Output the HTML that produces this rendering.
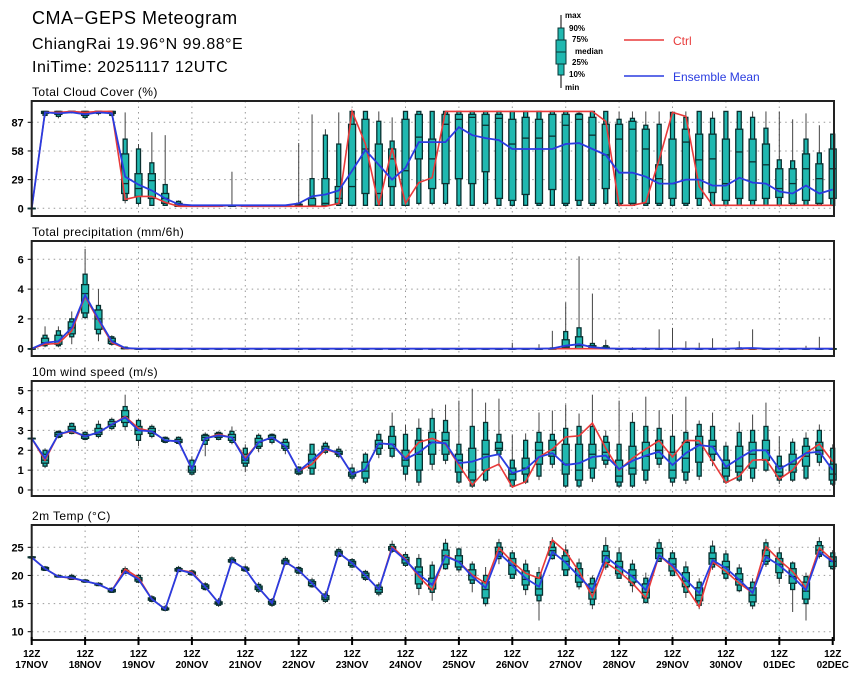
<!DOCTYPE html>
<html><head><meta charset="utf-8"><style>
html,body{margin:0;padding:0;background:#fff;}
svg{display:block;font-family:"Liberation Sans",sans-serif;}
</style></head><body>
<svg id="chart" width="860" height="679" viewBox="0 0 860 679" xmlns="http://www.w3.org/2000/svg">
<rect width="860" height="679" fill="#fff"/>
<g font-size="17" fill="#000">
<text x="32" y="24" font-size="18" letter-spacing="0.5">CMA−GEPS Meteogram</text>
<text x="32" y="49" font-size="16" letter-spacing="0.5">ChiangRai 19.96°N 99.88°E</text>
<text x="32" y="72" font-size="16" letter-spacing="0.5">IniTime: 20251117 12UTC</text>
</g>
<g>
<g>
<line x1="561" y1="15" x2="561" y2="88" stroke="#000" stroke-width="1"/>
<rect x="558" y="28" width="6" height="47" fill="#20b8b0" stroke="#0a3535" stroke-width="1"/>
<rect x="556" y="40" width="10" height="24" fill="#20b8b0" stroke="#0a3535" stroke-width="1"/>
<line x1="556" y1="52" x2="566" y2="52" stroke="#0a3535" stroke-width="1"/>
<g font-size="8" font-weight="bold">
<text x="565" y="18">max</text><text x="569" y="31">90%</text><text x="572" y="42">75%</text>
<text x="575" y="54">median</text><text x="572" y="65">25%</text><text x="569" y="77">10%</text><text x="565" y="90">min</text>
</g></g>
<g><line x1="624" y1="40" x2="664" y2="40" stroke="#e83a3a" stroke-width="1.5"/><text x="673" y="45" font-size="12" fill="#e83a3a">Ctrl</text></g>
<g><line x1="624" y1="76" x2="664" y2="76" stroke="#2a3ce0" stroke-width="1.5"/><text x="673" y="81" font-size="12" fill="#2a3ce0">Ensemble Mean</text></g>
</g>
<g id="plots"></g>
</svg>
<script>
// ---------- data ----------
const xTickTop = ["12Z","12Z","12Z","12Z","12Z","12Z","12Z","12Z","12Z","12Z","12Z","12Z","12Z","12Z","12Z","12Z"];
const xTickDates = ["17NOV","18NOV","19NOV","20NOV","21NOV","22NOV","23NOV","24NOV","25NOV","26NOV","27NOV","28NOV","29NOV","30NOV","01DEC","02DEC"];

const cloudTicks = [0,29,58,87];
const cloudCtrl = [0,97,97,98,97,98,98,9,12,12,6,2,2,2,2,3,2,2,2,2,2,2,2,5,98,65,3,61,5,26,31,98,98,98,98,98,98,98,98,98,98,98,98,88,3,3,6,49,97,93,22,3,3,3,3,3,3,3,3,3,3];
const cloudMean = [0,97,96,97,95,97,96,32,24,18,10,4,3,3,3,3,3,3,3,3,5,12,14,18,38,59,44,29,41,67,67,67,82,74,71,69,60,60,60,60,65,66,60,54,36,36,32,25,25,29,29,23,23,31,26,25,17,15,23,15,19];
// rows: [min,p10,p25,median,p75,p90,max]
const cloudQuantiles = [
[0,0,0,0,0,0,0],[92,94,96,97,98,98,98],[91,93,95,96,98,98,98],[96,97,97,98,98,98,98],[90,92,94,96,98,98,98],[94,96,97,98,98,98,98],[93,94,96,97,98,98,98],
[5,8,15,25,55,70,97],[3,5,12,20,35,60,65],[3,3,10,28,35,46,77],[3,3,5,10,15,24,74],[2,2,2,3,5,7,8],
[2,2,2,2,3,3,3],[2,2,2,2,3,3,3],[2,2,2,2,3,3,3],[2,2,2,2,3,3,37],[2,2,2,2,3,3,3],[2,2,2,2,3,3,3],[2,2,2,2,3,3,3],[2,2,2,2,3,3,3],
[2,2,2,3,4,5,66],[3,3,3,3,10,30,95],[3,3,3,5,30,74,80],[3,3,5,10,22,65,97],[3,3,3,22,85,98,98],[3,3,15,60,90,98,98],[3,3,3,15,65,88,98],
[3,3,22,50,60,68,92],[3,3,3,38,90,98,98],[3,5,50,72,95,98,98],[3,5,20,50,70,98,98],[3,5,25,85,95,98,98],[3,3,30,90,95,98,98],[3,3,25,92,95,98,98],
[3,5,37,84,95,98,98],[3,3,10,91,95,98,98],[3,3,8,65,90,98,98],[3,3,14,71,92,98,98],[3,3,5,71,90,98,98],[3,3,19,73,95,98,98],[3,3,5,84,95,98,98],
[3,3,8,90,95,96,98],[3,3,5,74,92,98,98],[3,5,20,54,85,98,98],[3,3,5,70,85,90,98],[3,3,5,80,88,91,98],[3,3,5,60,80,84,98],[3,3,5,30,44,85,98],
[3,3,10,25,70,97,98],[3,3,5,67,80,92,98],[3,3,10,49,75,98,98],[3,3,16,50,75,91,98],[3,3,8,25,70,98,98],[3,3,10,57,80,98,98],[3,3,8,47,70,92,98],
[3,3,10,44,65,81,98],[3,3,11,20,40,49,98],[3,3,5,25,40,48,90],[3,3,8,40,55,70,96],[3,3,5,30,45,56,84],[3,3,10,40,60,75,75]];

const precTicks = [0,2,4,6];
const precCtrl = [0,0.3,0.35,1.2,3.5,1.9,0.4,0.02,0,0,0,0,0,0,0,0,0,0,0,0,0,0,0,0,0,0,0,0,0,0,0,0,0,0,0,0,0,0,0,0,0,0,0,0,0,0,0,0,0,0,0,0,0,0,0,0,0,0,0,0,0];
const precMean = [0,0.4,0.5,1.4,3.6,2.0,0.5,0.05,0,0,0,0,0,0,0,0,0,0,0,0,0,0,0,0,0,0,0,0,0,0,0,0,0,0,0,0,0,0,0,0.02,0.2,0.3,0.1,0.02,0,0,0,0,0,0,0,0,0,0.03,0.05,0,0,0,0,0,0];
const precQuantiles = [
[0,0,0,0,0,0,0],[0.1,0.2,0.3,0.4,0.7,0.9,1.5],[0.1,0.2,0.3,0.5,0.9,1.2,1.5],[0.3,0.8,1.0,1.4,1.8,2.0,2.5],[2.0,2.1,2.4,3.7,4.3,5.0,6.7],
[0.5,1.0,1.3,2.0,2.6,2.9,4.0],[0.2,0.3,0.35,0.5,0.7,0.8,0.9],[0,0,0,0,0.05,0.1,0.15],
[0,0,0,0,0,0,0],[0,0,0,0,0,0,0],[0,0,0,0,0,0,0],[0,0,0,0,0,0,0],[0,0,0,0,0,0,0],[0,0,0,0,0,0,0],[0,0,0,0,0,0,0],[0,0,0,0,0,0,0],
[0,0,0,0,0,0,0],[0,0,0,0,0,0,0],[0,0,0,0,0,0,0],[0,0,0,0,0,0,0],[0,0,0,0,0,0,0],[0,0,0,0,0,0,0],[0,0,0,0,0,0,0],[0,0,0,0,0,0,0],
[0,0,0,0,0,0,0],[0,0,0,0,0,0,0],[0,0,0,0,0,0,0],[0,0,0,0,0,0,0],[0,0,0,0,0,0,0],[0,0,0,0,0,0,0],[0,0,0,0,0,0,0],[0,0,0,0,0,0,0],
[0,0,0,0,0,0,0],[0,0,0,0,0,0,0],[0,0,0,0,0,0,0],[0,0,0,0,0,0,0],[0,0,0,0,0,0,0.4],[0,0,0,0,0,0,0],[0,0,0,0,0,0,0.3],[0,0,0,0,0,0.05,1.2],
[0,0,0,0.1,0.6,1.15,3.1],[0,0,0,0.2,0.8,1.4,6.2],[0,0,0,0,0.2,0.35,3.7],[0,0,0,0,0.1,0.2,0.6],[0,0,0,0,0,0,0],[0,0,0,0,0,0,0.1],[0,0,0,0,0,0,0.1],
[0,0,0,0,0,0,1.3],[0,0,0,0,0,0,1.4],[0,0,0,0,0,0,0.5],[0,0,0,0,0,0,0.4],[0,0,0,0,0,0,0.7],[0,0,0,0,0,0,0],[0,0,0,0,0,0.05,0.5],[0,0,0,0,0,0,1.3],
[0,0,0,0,0,0,0],[0,0,0,0,0,0,0],[0,0,0,0,0,0,0],[0,0,0,0,0,0,0.2],[0,0,0,0,0,0,0.8],[0,0,0,0,0,0,0]];

const windTicks = [0,1,2,3,4,5];
const windCtrl = [2.6,1.5,2.8,2.95,2.7,2.9,3.3,3.7,3.1,2.95,2.5,2.45,1.05,2.6,2.8,2.65,1.6,2.4,2.65,2.2,0.95,1.3,2.05,1.85,0.8,1.05,2.35,2.3,1.6,2.4,2.6,2.3,1.26,0.25,1.0,1.3,0.15,0.42,1.66,2.06,2.67,2.73,3.37,2.1,1.0,1.6,2.06,2.48,1.66,2.5,2.48,1.43,0.37,0.7,1.5,1.53,0.55,1.0,1.86,2.31,1.43];
const windMean = [2.6,1.6,2.8,3.0,2.7,2.9,3.3,3.65,3.0,2.95,2.5,2.45,1.05,2.6,2.75,2.65,1.5,2.4,2.65,2.2,0.95,1.5,2.1,1.85,0.8,1.05,2.35,2.3,1.55,1.9,2.4,2.35,1.35,1.43,1.66,1.8,0.85,1.05,1.66,1.86,1.26,1.35,1.66,1.73,1.05,1.47,1.73,1.93,1.26,1.86,2.26,2.18,1.17,1.6,2.0,2.0,1.05,1.43,1.86,1.93,1.0];
const windQuantiles = [
[2.6,2.6,2.6,2.6,2.6,2.6,2.6],[1.1,1.2,1.35,1.5,1.8,2.0,2.1],[2.6,2.65,2.7,2.8,2.9,2.95,3.0],[2.8,2.85,2.95,3.05,3.2,3.35,3.4],[2.5,2.55,2.6,2.7,2.8,2.9,2.95],
[2.6,2.7,2.8,2.9,3.1,3.3,3.5],[3.0,3.1,3.2,3.3,3.45,3.55,3.65],[3.0,3.2,3.4,3.7,4.0,4.2,4.8],[2.2,2.5,2.8,3.0,3.2,3.5,3.6],[2.6,2.7,2.85,2.95,3.1,3.2,3.3],
[2.35,2.4,2.45,2.5,2.6,2.65,2.7],[2.3,2.35,2.4,2.45,2.55,2.65,2.7],[0.75,0.8,0.9,1.0,1.2,1.5,1.7],[1.7,2.3,2.5,2.65,2.75,2.8,2.9],[2.5,2.55,2.65,2.75,2.85,2.9,2.95],
[2.3,2.4,2.5,2.65,2.8,2.95,3.2],[0.9,1.2,1.35,1.5,1.8,2.1,2.3],[1.9,2.1,2.2,2.4,2.6,2.75,2.85],[2.3,2.4,2.55,2.65,2.75,2.8,2.85],[1.8,2.0,2.1,2.2,2.4,2.55,2.6],
[0.75,0.8,0.85,0.95,1.05,1.15,1.2],[0.8,0.8,1.1,1.5,1.8,2.3,2.3],[1.8,1.9,2.0,2.1,2.2,2.35,2.45],[1.6,1.7,1.8,1.85,1.95,2.05,2.2],[0.5,0.6,0.7,0.8,0.9,1.1,1.3],
[0.3,0.4,0.6,0.95,1.4,1.8,1.9],[1.6,1.8,2.1,2.3,2.5,2.8,3.0],[1.6,1.7,2.1,2.3,2.7,3.2,3.9],[0.5,0.8,1.2,1.5,2.0,2.8,3.3],[0.2,0.4,1.0,1.8,2.5,3.1,3.6],
[1.0,1.3,1.8,2.4,2.9,3.6,4.1],[1.3,1.5,1.8,2.5,2.9,3.5,4.3],[0.3,0.4,0.9,1.5,1.8,2.3,4.5],[0.1,0.2,0.5,0.9,2.1,3.2,5.1],[0.4,0.5,1.0,1.8,2.5,3.4,4.4],
[1.2,1.8,2.0,2.1,2.4,2.8,4.6],[0.1,0.2,0.5,0.8,1.1,1.5,2.8],[0.3,0.4,0.8,1.1,1.6,2.5,2.85],[0.5,0.7,1.3,2.0,2.4,2.9,3.9],[1.1,1.3,1.7,2.0,2.5,2.8,4.0],
[0.1,0.2,0.8,1.3,2.3,3.1,4.3],[0.1,0.2,0.5,1.0,2.3,3.2,3.85],[0.4,0.6,1.1,1.8,2.3,3.2,4.8],[1.1,1.3,1.5,1.9,2.4,2.7,3.0],[0.1,0.2,0.4,0.7,1.5,2.3,4.5],
[0.1,0.2,0.8,1.1,2.2,3.4,3.9],[0.3,0.5,1.0,1.7,2.4,3.2,4.7],[1.1,1.3,1.6,2.0,2.5,3.1,4.0],[0.2,0.4,0.6,1.0,1.9,2.7,3.8],[0.3,0.5,0.9,1.6,2.4,2.9,4.7],
[0.5,0.7,1.4,2.3,2.7,3.3,3.5],[1.2,1.5,1.8,2.2,2.5,3.2,3.9],[0.3,0.4,0.7,1.1,1.5,2.2,2.4],[0.4,0.5,0.9,1.2,2.2,2.9,3.4],[0.4,0.6,1.1,1.8,2.4,3.0,3.8],
[0.9,1.0,1.5,2.0,2.5,3.2,4.4],[0.3,0.5,0.7,0.9,1.2,1.7,2.7],[0.4,0.5,0.9,1.3,1.8,2.4,2.6],[0.5,0.6,1.2,1.7,2.2,2.6,2.9],[1.2,1.4,1.8,2.0,2.4,3.0,3.3],
[0.2,0.3,0.5,0.8,1.3,2.1,2.3]];

const tempTicks = [10,15,20,25];
const tempCtrl = [23.2,21.2,19.8,19.5,19.0,18.4,17.3,21.1,19.6,15.8,14.0,21.0,20.6,18.0,15.1,22.6,21.1,17.8,15.1,22.4,20.9,18.6,16.1,24.0,22.2,20.0,17.5,25.1,22.9,19.8,17.4,23.6,22.4,20.1,18.6,24.9,22.4,20.4,19.5,26.3,24.2,20.7,16.2,22.3,20.7,18.6,16.0,23.6,21.5,18.0,14.4,22.4,20.7,18.6,16.9,25.1,22.7,20.7,17.8,24.9,22.7];
const tempMean = [23.2,21.2,19.8,19.6,19.0,18.4,17.3,20.7,19.3,15.8,14.0,21.0,20.4,18.0,15.1,22.6,21.1,17.8,15.1,22.4,20.9,18.6,16.1,24.0,22.2,20.0,17.5,24.8,22.7,20.2,18.3,23.4,22.4,19.8,17.8,24.0,21.8,19.5,18.0,24.2,22.3,19.8,17.4,23.3,21.5,19.8,17.4,23.6,21.8,19.2,16.9,22.7,21.3,19.2,16.9,23.3,21.8,19.8,17.4,24.2,22.4];
const tempMin = [23.0,20.8,19.6,19.2,18.7,18.1,16.9,20.2,18.6,15.2,13.6,20.6,20.0,17.3,14.4,22.1,20.6,16.9,14.4,21.8,20.2,17.8,15.1,23.2,21.3,19.0,16.3,24.0,21.5,16.5,15.5,21.0,20.5,17.0,14.5,22.0,19.5,16.5,12.0,22.8,20.0,17.5,14.0,21.0,19.5,17.0,15.0,22.8,19.8,16.0,14.0,21.0,19.2,17.0,14.0,21.5,18.5,13.5,12.0,23.0,21.0];
const tempP10 = [23.1,20.9,19.7,19.3,18.8,18.2,17.0,20.4,18.8,15.4,13.8,20.7,20.1,17.5,14.7,22.3,20.8,17.2,14.7,22.0,20.4,18.0,15.4,23.4,21.5,19.3,16.7,24.3,21.8,17.7,17.0,21.2,21.0,18.6,15.0,23.0,19.5,17.5,15.5,23.0,20.0,18.0,14.8,21.5,19.5,18.2,15.2,22.5,20.0,17.0,14.7,21.5,19.5,17.3,14.6,22.0,19.5,17.5,15.0,23.4,21.2];
const tempP25 = [23.15,21.0,19.75,19.4,18.9,18.3,17.1,20.5,19.0,15.6,13.9,20.8,20.2,17.7,14.9,22.4,20.9,17.5,14.9,22.1,20.6,18.2,15.7,23.6,21.8,19.6,17.0,24.5,22.2,18.5,17.6,22.0,21.5,19.2,16.0,23.4,20.2,18.3,16.5,23.6,21.0,18.8,15.8,22.3,20.3,18.8,16.0,23.0,20.8,18.0,15.5,22.0,20.3,18.3,15.3,22.5,20.5,18.6,15.8,23.8,21.6];
const tempMedian = [23.2,21.2,19.8,19.6,19.0,18.4,17.3,20.7,19.3,15.8,14.0,21.0,20.4,18.0,15.1,22.6,21.1,17.8,15.1,22.4,20.9,18.6,16.0,24.0,22.2,20.0,17.5,24.8,22.8,20.6,18.5,23.5,22.5,20.0,17.5,24.2,21.8,19.3,17.6,24.4,22.5,20.0,17.0,23.5,21.5,20.0,17.0,24.0,22.0,19.0,16.5,23.0,21.5,19.3,16.5,23.5,22.0,19.8,17.2,24.5,22.5];
const tempP75 = [23.3,21.4,19.9,19.8,19.1,18.5,17.5,20.9,19.6,16.0,14.2,21.2,20.6,18.3,15.3,22.8,21.3,18.1,15.4,22.7,21.2,18.9,16.4,24.3,22.5,20.4,17.9,25.1,23.2,21.5,19.5,24.5,23.5,21.0,18.9,25.0,23.0,20.8,19.5,25.0,23.5,21.2,18.5,24.3,22.5,21.0,18.5,24.8,23.0,20.5,17.8,24.0,22.5,20.3,17.8,24.5,23.0,21.2,18.8,25.3,23.3];
const tempP90 = [23.3,21.5,20.0,20.0,19.2,18.6,17.7,21.2,20.0,16.2,14.4,21.4,20.8,18.5,15.6,23.1,21.5,18.4,15.7,23.0,21.4,19.2,16.7,24.6,22.8,20.7,18.3,25.5,23.7,23.0,21.8,25.7,24.7,22.0,20.0,25.8,24.0,22.0,20.5,26.0,24.5,22.2,19.5,25.3,24.0,22.0,19.5,25.8,24.0,21.5,18.8,25.2,23.8,21.3,18.8,25.8,24.0,22.2,19.8,26.0,24.0];
const tempMax = [23.4,21.7,20.2,20.3,19.4,18.8,17.9,21.6,20.3,16.5,14.7,21.7,21.0,18.8,16.0,23.4,21.8,18.8,16.0,23.4,21.7,19.6,17.2,25.0,23.1,21.0,18.8,26.2,24.2,23.8,22.5,26.5,24.9,22.5,21.5,26.5,24.5,22.8,21.5,26.8,25.5,23.0,20.0,26.8,25.0,22.8,20.5,26.5,24.5,22.5,19.5,26.2,24.5,22.0,19.5,26.5,25.0,22.5,20.5,26.8,24.5];

// ---------- drawing ----------
const NS = "http://www.w3.org/2000/svg";
const X0 = 31.7, DX = 13.35, XR = 834;
function xs(i){ return X0 + i*DX; }
function mk(tag, attrs, parent){ const e=document.createElementNS(NS,tag); for(const k in attrs) e.setAttribute(k, attrs[k]); parent.appendChild(e); return e; }
const root = document.getElementById('plots');

const tempQuantiles = tempMin.map((v,i)=>[tempMin[i],tempP10[i],tempP25[i],tempMedian[i],tempP75[i],tempP90[i],tempMax[i]]);

const panels = [
 {name:'cloud-cover', title:'Total Cloud Cover (%)', top:101, bottom:216, v0:0, p0:208.3, v1:87, p1:122.3, ticks:cloudTicks, ctrl:cloudCtrl, mean:cloudMean, q:cloudQuantiles},
 {name:'precipitation', title:'Total precipitation (mm/6h)', top:241, bottom:356, v0:0, p0:348.7, v1:6, p1:259.3, ticks:precTicks, ctrl:precCtrl, mean:precMean, q:precQuantiles},
 {name:'wind-speed', title:'10m wind speed (m/s)', top:381, bottom:496, v0:0, p0:490, v1:5, p1:390.7, ticks:windTicks, ctrl:windCtrl, mean:windMean, q:windQuantiles},
 {name:'temperature', title:'2m Temp (°C)', top:525, bottom:640, v0:10, p0:631.7, v1:25, p1:547.3, ticks:tempTicks, ctrl:tempCtrl, mean:tempMean, q:tempQuantiles}
];

panels.forEach(function(P, pi){
  const ys = v => P.p0 + (v-P.v0)*(P.p1-P.p0)/(P.v1-P.v0);
  const g = mk('g',{},root);
  
  
  const t = mk('text',{x:32,y:P.top-5,'font-size':12,fill:'#000','letter-spacing':'0.4'},g);
  
  
  t.textContent = P.title;
  const grid = mk('g',{stroke:'#999','stroke-width':1,'stroke-dasharray':'1.5,4'},g);
  
  
  for(let d=1; d<xTickDates.length-1; d++){ const x=xs(d*4); mk('line',{x1:x,y1:P.top,x2:x,y2:P.bottom},grid); }
  P.ticks.forEach(v=>{ const y=ys(v); mk('line',{x1:X0,y1:y,x2:XR,y2:y},grid); });
  const yl = mk('g',{'font-size':11,'font-weight':'bold','text-anchor':'end',fill:'#000'},g);
  
  
  P.ticks.forEach(v=>{ const y=ys(v); mk('line',{x1:X0-4,y1:y,x2:X0,y2:y,stroke:'#000'},yl); const tx=mk('text',{x:X0-8,y:y+4},yl); tx.textContent=String(v); });
  const bg = mk('g',{},g);
  
  
  P.q.forEach(function(r,i){
    if(!r) return;
    const x = xs(i);
    const b = mk('g',{},bg);
    
    
    mk('line',{x1:x,y1:ys(r[0]),x2:x,y2:ys(r[6]),stroke:'#444','stroke-width':1},b);
    mk('rect',{x:x-2,y:ys(r[5]),width:4,height:Math.max(0.5,ys(r[1])-ys(r[5])),fill:'#20b8b0',stroke:'#0a3030','stroke-width':1.3},b);
    mk('rect',{x:x-3.5,y:ys(r[4]),width:7,height:Math.max(0.5,ys(r[2])-ys(r[4])),fill:'#20b8b0',stroke:'#0a3030','stroke-width':1.3},b);
    mk('line',{x1:x-3.5,y1:ys(r[3]),x2:x+3.5,y2:ys(r[3]),stroke:'#0a3030','stroke-width':1.3},b);
  });
  const pc = P.ctrl.map((v,i)=>xs(i).toFixed(1)+','+ys(v).toFixed(1)).join(' ');
  const lc = mk('polyline',{points:pc,fill:'none',stroke:'#e83a3a','stroke-width':1.6},g);
  
  
  const pm = P.mean.map((v,i)=>xs(i).toFixed(1)+','+ys(v).toFixed(1)).join(' ');
  const lm = mk('polyline',{points:pm,fill:'none',stroke:'#2a3ce0','stroke-width':1.8},g);
  
  
  const fr = mk('rect',{x:X0,y:P.top,width:XR-X0,height:P.bottom-P.top,fill:'none',stroke:'#222','stroke-width':2},g);
  
  
  if(pi===3){
    const xa = mk('g',{'font-size':10,'font-weight':'bold','text-anchor':'middle',fill:'#000'},g);
    
    
    xTickDates.forEach(function(d,k){
      const x = xs(k*4);
      mk('line',{x1:x,y1:P.bottom-3,x2:x,y2:P.bottom+5,stroke:'#000','stroke-width':2},xa);
      const t1 = mk('text',{x:x,y:P.bottom+17},xa); t1.textContent = xTickTop[k];
      const t2 = mk('text',{x:x,y:P.bottom+28},xa); t2.textContent = d;
    });
  }
});
</script>
</body></html>
